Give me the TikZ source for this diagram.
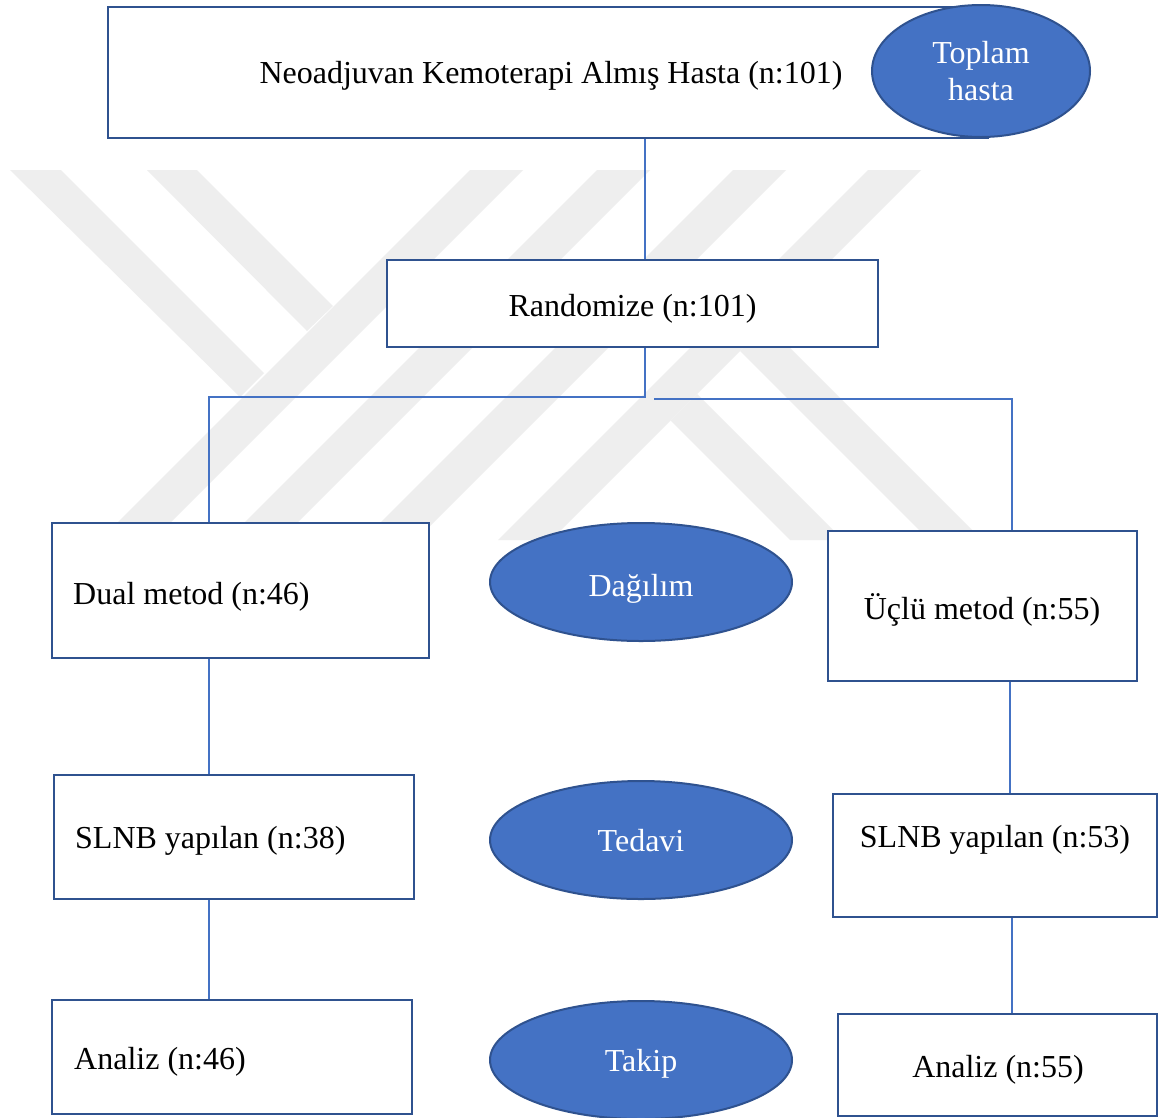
\documentclass[tikz,border=0pt]{standalone}
\usepackage{fontspec}
\setmainfont{Liberation Serif}
\usetikzlibrary{shapes.geometric}
\definecolor{bdr}{HTML}{2F528F}
\definecolor{fil}{HTML}{4472C4}
\definecolor{lnk}{HTML}{4472C4}
\definecolor{wm}{RGB}{238,238,238}
\begin{document}
\begin{tikzpicture}[x=1pt,y=-1pt,
  box/.style={draw=bdr,line width=2.8pt,fill=white,rectangle,inner sep=0pt},
  oval/.style={draw=bdr,line width=2pt,fill=fil,ellipse,inner sep=0pt,minimum width=302pt,minimum height=118pt},
  txt/.style={inner sep=0pt,font=\fontsize{32}{37}\selectfont},
  wtxt/.style={txt,text=white},
  link/.style={draw=lnk,line width=1.1pt},
  wmark/.style={fill=wm}]
\useasboundingbox (0,0) rectangle (1164,1117);
\fill[white] (0,0) rectangle (1164,1117);
% watermark
\foreach \t in {470,597,733,868}{
  \fill[wmark] (\t,170) -- (\t+53,170) -- (\t-317,540) -- (\t-370,540) -- cycle;
}
\fill[wmark] (10,170) -- (61,170) -- (264,373) -- (240,397) -- cycle;
\fill[wmark] (147,170) -- (197,170) -- (333,306) -- (307,331) -- cycle;
\fill[wmark] (670.5,420.5) -- (697,394) -- (843,540) -- (790,540) -- cycle;
\fill[wmark] (740,351) -- (766.5,324.5) -- (982,540) -- (929,540) -- cycle;
% boxes
\node[box,minimum width=880pt,minimum height=131pt] (top) at (548,72.5) {};
\node[oval,minimum width=218pt,minimum height=132pt] (toplam) at (981,71) {};
\node[box,minimum width=491pt,minimum height=87pt] (rand) at (632.5,303.5) {};
\node[box,minimum width=377pt,minimum height=135pt] (dual) at (240.5,590.5) {};
\node[box,minimum width=309pt,minimum height=150pt] (ucl) at (982.5,606) {};
\node[box,minimum width=360pt,minimum height=124pt] (slnbL) at (234,837) {};
\node[box,minimum width=324pt,minimum height=123pt] (slnbR) at (995,855.5) {};
\node[box,minimum width=360pt,minimum height=114pt] (anL) at (232,1057) {};
\node[box,minimum width=319pt,minimum height=102pt] (anR) at (997.5,1065) {};
\node[oval] (dag) at (641,582) {};
\node[oval] (ted) at (641,840) {};
\node[oval] (tak) at (641,1060) {};
% connectors
\coordinate (jL) at (209,397);
\coordinate (jR0) at (654,399);
\coordinate (jR) at (1012,399);
\draw[link] (top.south -| 645,0) -- (rand.north -| 645,0);
\draw[link] (rand.south -| 645,0) -- (645,397) -- (jL) -- (dual.north -| jL);
\draw[link] (jR0) -- (jR) -- (ucl.north -| jR);
\draw[link] (dual.south -| 209,0) -- (slnbL.north -| 209,0);
\draw[link] (slnbL.south -| 209,0) -- (anL.north -| 209,0);
\draw[link] (ucl.south -| 1010,0) -- (slnbR.north -| 1010,0);
\draw[link] (slnbR.south -| 1012,0) -- (anR.north -| 1012,0);
% texts
\node[txt,anchor=base] (ttop) at (551,83) {Neoadjuvan Kemoterapi Almış Hasta (n:101)};
\node[wtxt,anchor=base] (ttop1) at (981,63) {Toplam};
\node[wtxt,anchor=base] (ttop2) at (981,100) {hasta};
\node[txt,anchor=base] (trand) at (632.5,316) {Randomize (n:101)};
\node[txt,anchor=base west] (tdual) at (73,604) {Dual metod (n:46)};
\node[wtxt,anchor=base] (tdag) at (641,596) {Dağılım};
\node[txt,anchor=base] (tucl) at (982,619) {Üçlü metod (n:55)};
\node[txt,anchor=base west] (tslL) at (75,848) {SLNB yapılan (n:38)};
\node[wtxt,anchor=base] (tted) at (641,851) {Tedavi};
\node[txt,anchor=base] (tslR) at (995,847) {SLNB yapılan (n:53)};
\node[txt,anchor=base west] (tanL) at (74,1069) {Analiz (n:46)};
\node[wtxt,anchor=base] (ttak) at (641,1071) {Takip};
\node[txt,anchor=base] (tanR) at (998,1077) {Analiz (n:55)};
\end{tikzpicture}
\end{document}
